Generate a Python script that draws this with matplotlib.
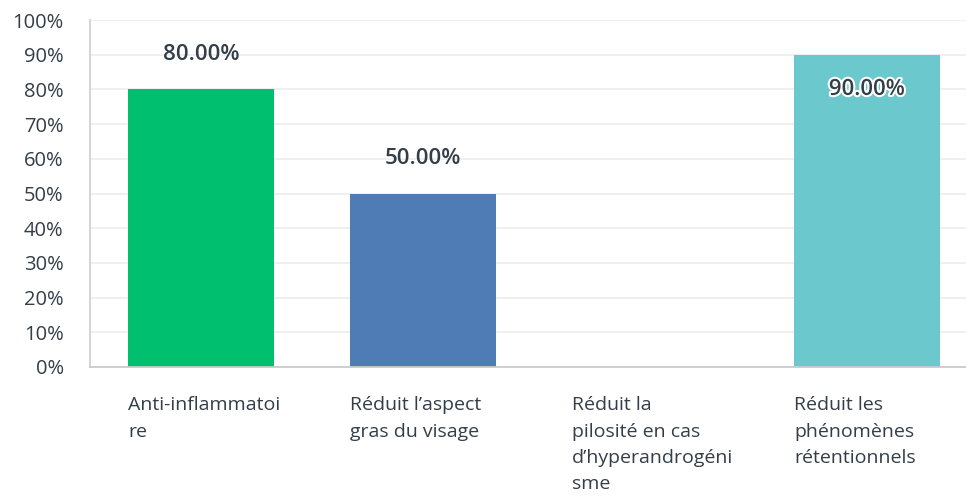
import matplotlib.pyplot as plt
import matplotlib.patheffects as pe
import numpy as np

# data
categories = ['Anti-inflammatoi\nre',
              'Réduit l’aspect\ngras du visage',
              'Réduit la\npilosité en cas\nd’hyperandrogéni\nsme',
              'Réduit les\nphénomènes\nrétentionnels']
values = [80, 50, 0, 90]
colors = ['#00BF6F', '#507CB6', '#A0A0A0', '#6BC8CD']
yticks = list(range(0, 101, 10))

text_color = '#333E48'
plt.rcParams['font.family'] = ['Open Sans', 'DejaVu Sans']

fig = plt.figure(figsize=(9.66, 5), dpi=100)
ax = fig.add_axes([0.0932, 0.266, 0.9068, 0.694])

x = np.arange(len(categories))
width = 0.658
ax.bar(x, values, width, color=colors, zorder=2)

# value labels: above the bar, or inside when near the top
for xi, v in zip(x, values):
    if v == 0:
        continue
    if v + 10 < 100:
        ax.text(xi, v + 10, f'{v:.2f}%', ha='center', va='center',
                fontsize=16, fontweight='semibold', color=text_color, zorder=3)
    else:
        ax.text(xi, v - 10, f'{v:.2f}%', ha='center', va='center',
                fontsize=16, fontweight='semibold', color=text_color, zorder=3,
                path_effects=[pe.withStroke(linewidth=3, foreground='white')])

ax.set_xlim(-0.5, 3.446)
ax.set_ylim(0, 100)
ax.set_yticks(yticks)
ax.set_yticklabels([f'{t}%' for t in yticks], fontsize=14.5, color=text_color)
ax.tick_params(axis='y', length=0, pad=19)

ax.set_xticks(x - width / 2)
ax.set_xticklabels(categories, fontsize=14, color=text_color, ha='left',
                   va='top', linespacing=1.6)
ax.tick_params(axis='x', length=0, pad=21)

ax.grid(axis='y', color='#EDEEEE', linewidth=1.3, zorder=0)
for side in ['top', 'right']:
    ax.spines[side].set_visible(False)
ax.spines['left'].set_color('#D0D2D3')
ax.spines['bottom'].set_color('#C8CACB')
ax.spines['left'].set_linewidth(1.3)
ax.spines['bottom'].set_linewidth(1.3)
ax.spines['left'].set_zorder(4)
ax.spines['bottom'].set_zorder(4)

fig.savefig('out.png', dpi=100)
